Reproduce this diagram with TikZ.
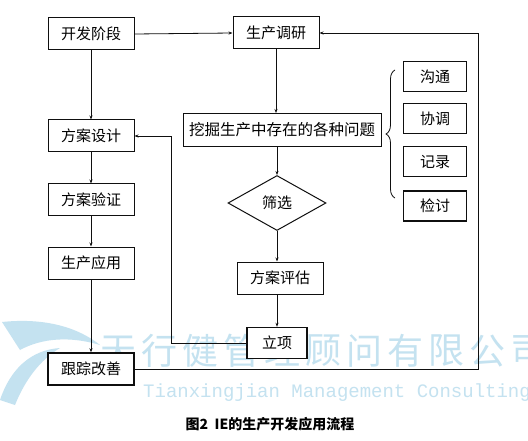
\documentclass[tikz,border=0pt]{standalone}
\usepackage{fontspec}
\setmainfont{Liberation Serif}
\setmonofont{Liberation Mono}
\newfontfamily\cjk{Noto Sans CJK SC}
\usepackage{tikz}
\usetikzlibrary{shapes.geometric, arrows.meta, positioning, decorations.pathreplacing}
\definecolor{FlowInk}{RGB}{15,15,15}
\definecolor{MarkCyan}{RGB}{196,226,240}

\begin{document}
\begin{tikzpicture}[x=1pt,y=1pt,
  box/.style={draw=FlowInk, line width=1pt, fill=white, minimum width=86pt, minimum height=32pt, inner sep=2pt, font=\fontsize{15}{17}\selectfont\cjk},
  sidebox/.style={box, minimum width=63pt, minimum height=30pt},
  arr/.style={draw=FlowInk, line width=0.8pt, -{Stealth[length=4pt,width=3pt]}},
  wmark/.style={text=MarkCyan, inner sep=0pt}]
  \path[use as bounding box] (0,0) rectangle (528,440);
  \fill[white] (0,0) rectangle (528,440);
  % watermark
  \fill[MarkCyan] (2,118) .. controls (40,122) and (75,115) .. (100,95)
    .. controls (70,104) and (42,102) .. (20,90) -- cycle;
  \fill[MarkCyan] (0,40) .. controls (10,70) and (30,90) .. (60,92)
    .. controls (40,80) and (25,60) .. (15,35) -- cycle;
  \foreach \ch [count=\i from 0] in {天,行,健,管,理,顾,问,有,限,公,司}
    \node[wmark, font=\fontsize{36}{36}\selectfont\cjk] (wm\i) at (118+41*\i,89) {\ch};
  \node[wmark, anchor=base west, font=\fontsize{19}{20}\selectfont\ttfamily] (wmEn) at (143,43) {Tianxingjian Management Consulting};

  % left column
  \node[box] (dev) at (91,406) {开发阶段};
  \node[box] (design) at (91,304) {方案设计};
  \node[box] (verify) at (91,240) {方案验证};
  \node[box] (apply) at (91,177) {生产应用};
  \node[box, line width=1.4pt] (track) at (91,71) {跟踪改善};

  % middle column
  \node[box] (research) at (276,407) {生产调研};
  \node[box, minimum width=198pt, minimum height=33pt, font=\fontsize{15.5}{17}\selectfont\cjk] (problem) at (282,310) {挖掘生产中存在的各种问题};
  \node[draw=FlowInk, line width=1pt, fill=white, diamond, aspect=1.8, minimum width=98pt, minimum height=55pt, inner sep=0pt, font=\fontsize{15}{17}\selectfont\cjk] (screen) at (277,237) {筛选};
  \node[box] (eval) at (280,162) {方案评估};
  \node[box, line width=1.4pt, minimum width=60pt, minimum height=31pt] (approve) at (277,97) {立项};

  % right column
  \node[sidebox] (talk) at (435,363) {沟通};
  \node[sidebox] (coord) at (435,321) {协调};
  \node[sidebox] (record) at (435,278) {记录};
  \node[sidebox, line width=1.4pt] (review) at (435,234) {检讨};
  \draw[FlowInk, line width=0.8pt, decorate, decoration={brace, amplitude=9pt}]
    (395,242) -- (395,370);

  % connectors
  \draw[arr] (dev.east) -- (research.west);
  \draw[arr] (dev.south) -- (design.north);
  \draw[arr] (design.south) -- (verify.north);
  \draw[arr] (verify.south) -- (apply.north);
  \draw[arr] (apply.south) -- (track.north);
  \draw[arr] (research.south) -- (research.south |- problem.north);
  \draw[arr] (screen.north |- problem.south) -- (screen.north);
  \draw[arr] (screen.south) -- (screen.south |- eval.north);
  \draw[arr] (screen.south |- eval.south) -- (approve.north);
  \coordinate (loopA) at (171,97);
  \draw[arr] (approve.west) -- (loopA) |- (design.east);
  \coordinate (loopB) at (478,71);
  \draw[arr] (track.east) -- (loopB) |- (research.east);

  % caption
  \node[font=\fontsize{14}{16}\selectfont\cjk\bfseries] (caption) at (270,16) {图2\ \ IE的生产开发应用流程};
\end{tikzpicture}
\end{document}
